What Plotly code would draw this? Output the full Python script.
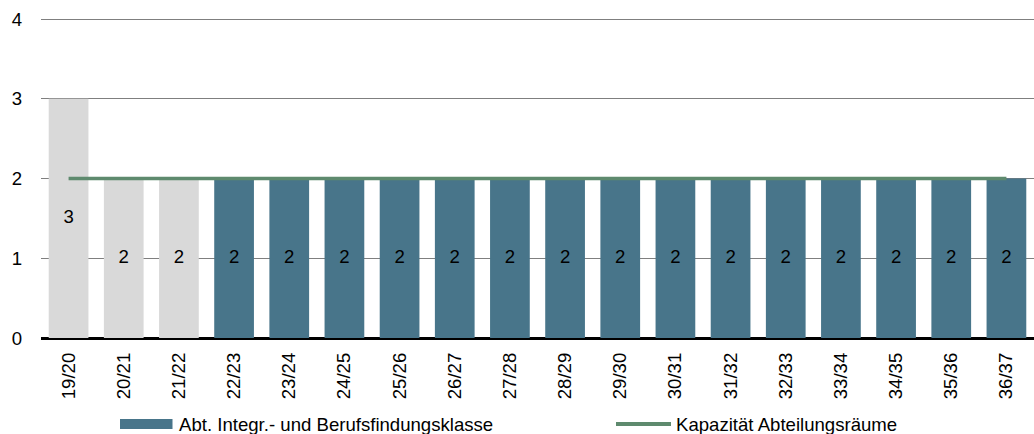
import plotly.graph_objects as go

# School years and number of classes
years = ["19/20", "20/21", "21/22", "22/23", "23/24", "24/25", "25/26", "26/27", "27/28",
         "28/29", "29/30", "30/31", "31/32", "32/33", "33/34", "34/35", "35/36", "36/37"]
classes = [3, 2, 2, 2, 2, 2, 2, 2, 2, 2, 2, 2, 2, 2, 2, 2, 2, 2]
capacity = [2] * len(years)
n_actual = 3  # first years are actual figures (grey), rest forecast

bar_series_name = "Abt. Integr.- und Berufsfindungsklasse"
line_series_name = "Kapazität Abteilungsräume"

GREY = "#D9D9D9"
TEAL = "#48758A"
GREEN = "#5E8A6E"
FONT = "Liberation Sans, Arial, sans-serif"
FS = 18.6

bar_colors = [GREY if i < n_actual else TEAL for i in range(len(years))]

# Plot area geometry (pixels)
W, H = 1034, 434
L, R, T, B = 41, 0, 17, 96
PH = H - T - B
YMAX = 4 * PH / (PH - 2)  # leaves the top gridline just inside the plot


def py(pixel_y):
    """Convert a page pixel row to paper y."""
    return (H - B - pixel_y) / PH


def px(pixel_x):
    return (pixel_x - L) / (W - L - R)


fig = go.Figure()
fig.add_trace(go.Bar(
    x=years, y=classes,
    marker=dict(color=bar_colors, line=dict(width=0)),
    width=0.72,
    name=bar_series_name,
    showlegend=False,
))
fig.add_trace(go.Scatter(
    x=years, y=capacity, mode="lines",
    line=dict(color=GREEN, width=3.5),
    name=line_series_name,
    showlegend=False,
))
# Value labels centred in each bar
fig.add_trace(go.Scatter(
    x=years, y=[v / 2 for v in classes], mode="text",
    text=[str(v) for v in classes],
    textposition="middle center",
    textfont=dict(family=FONT, size=FS, color="black"),
    hoverinfo="skip",
    showlegend=False,
))

# Legend drawn below the axis
LEG_Y = 424
fig.add_shape(type="rect", xref="paper", yref="paper",
              x0=px(120), x1=px(172.5), y0=py(429), y1=py(419),
              fillcolor=TEAL, line=dict(width=0))
fig.add_annotation(xref="paper", yref="paper", x=px(177), y=py(LEG_Y),
                   text=bar_series_name, showarrow=False, xanchor="left", yanchor="middle",
                   font=dict(family=FONT, size=FS, color="black"))
fig.add_shape(type="line", xref="paper", yref="paper",
              x0=px(616), x1=px(671), y0=py(LEG_Y), y1=py(LEG_Y),
              line=dict(color=GREEN, width=4))
fig.add_annotation(xref="paper", yref="paper", x=px(674), y=py(LEG_Y),
                   text=line_series_name, showarrow=False, xanchor="left", yanchor="middle",
                   font=dict(family=FONT, size=FS, color="black"))

fig.update_layout(
    width=W, height=H,
    margin=dict(l=L, r=R, t=T, b=B),
    paper_bgcolor="white", plot_bgcolor="white",
    font=dict(family=FONT, size=FS, color="black"),
    showlegend=False,
)
fig.update_xaxes(
    type="category",
    range=[-0.5, len(years) - 0.5],
    tickangle=-90,
    tickfont=dict(family=FONT, size=FS, color="black"),
    ticklabelstandoff=10,
    showgrid=False,
    showline=False,
    ticks="",
)
fig.update_yaxes(
    range=[0, YMAX],
    tickvals=[0, 1, 2, 3, 4],
    showgrid=True, gridcolor="#7F7F7F", gridwidth=1,
    zeroline=True, zerolinecolor="black", zerolinewidth=2.5,
    tickfont=dict(family=FONT, size=FS, color="black"),
    ticklabelstandoff=18,
    showline=False,
    ticks="",
)

fig.write_html("out.html")
